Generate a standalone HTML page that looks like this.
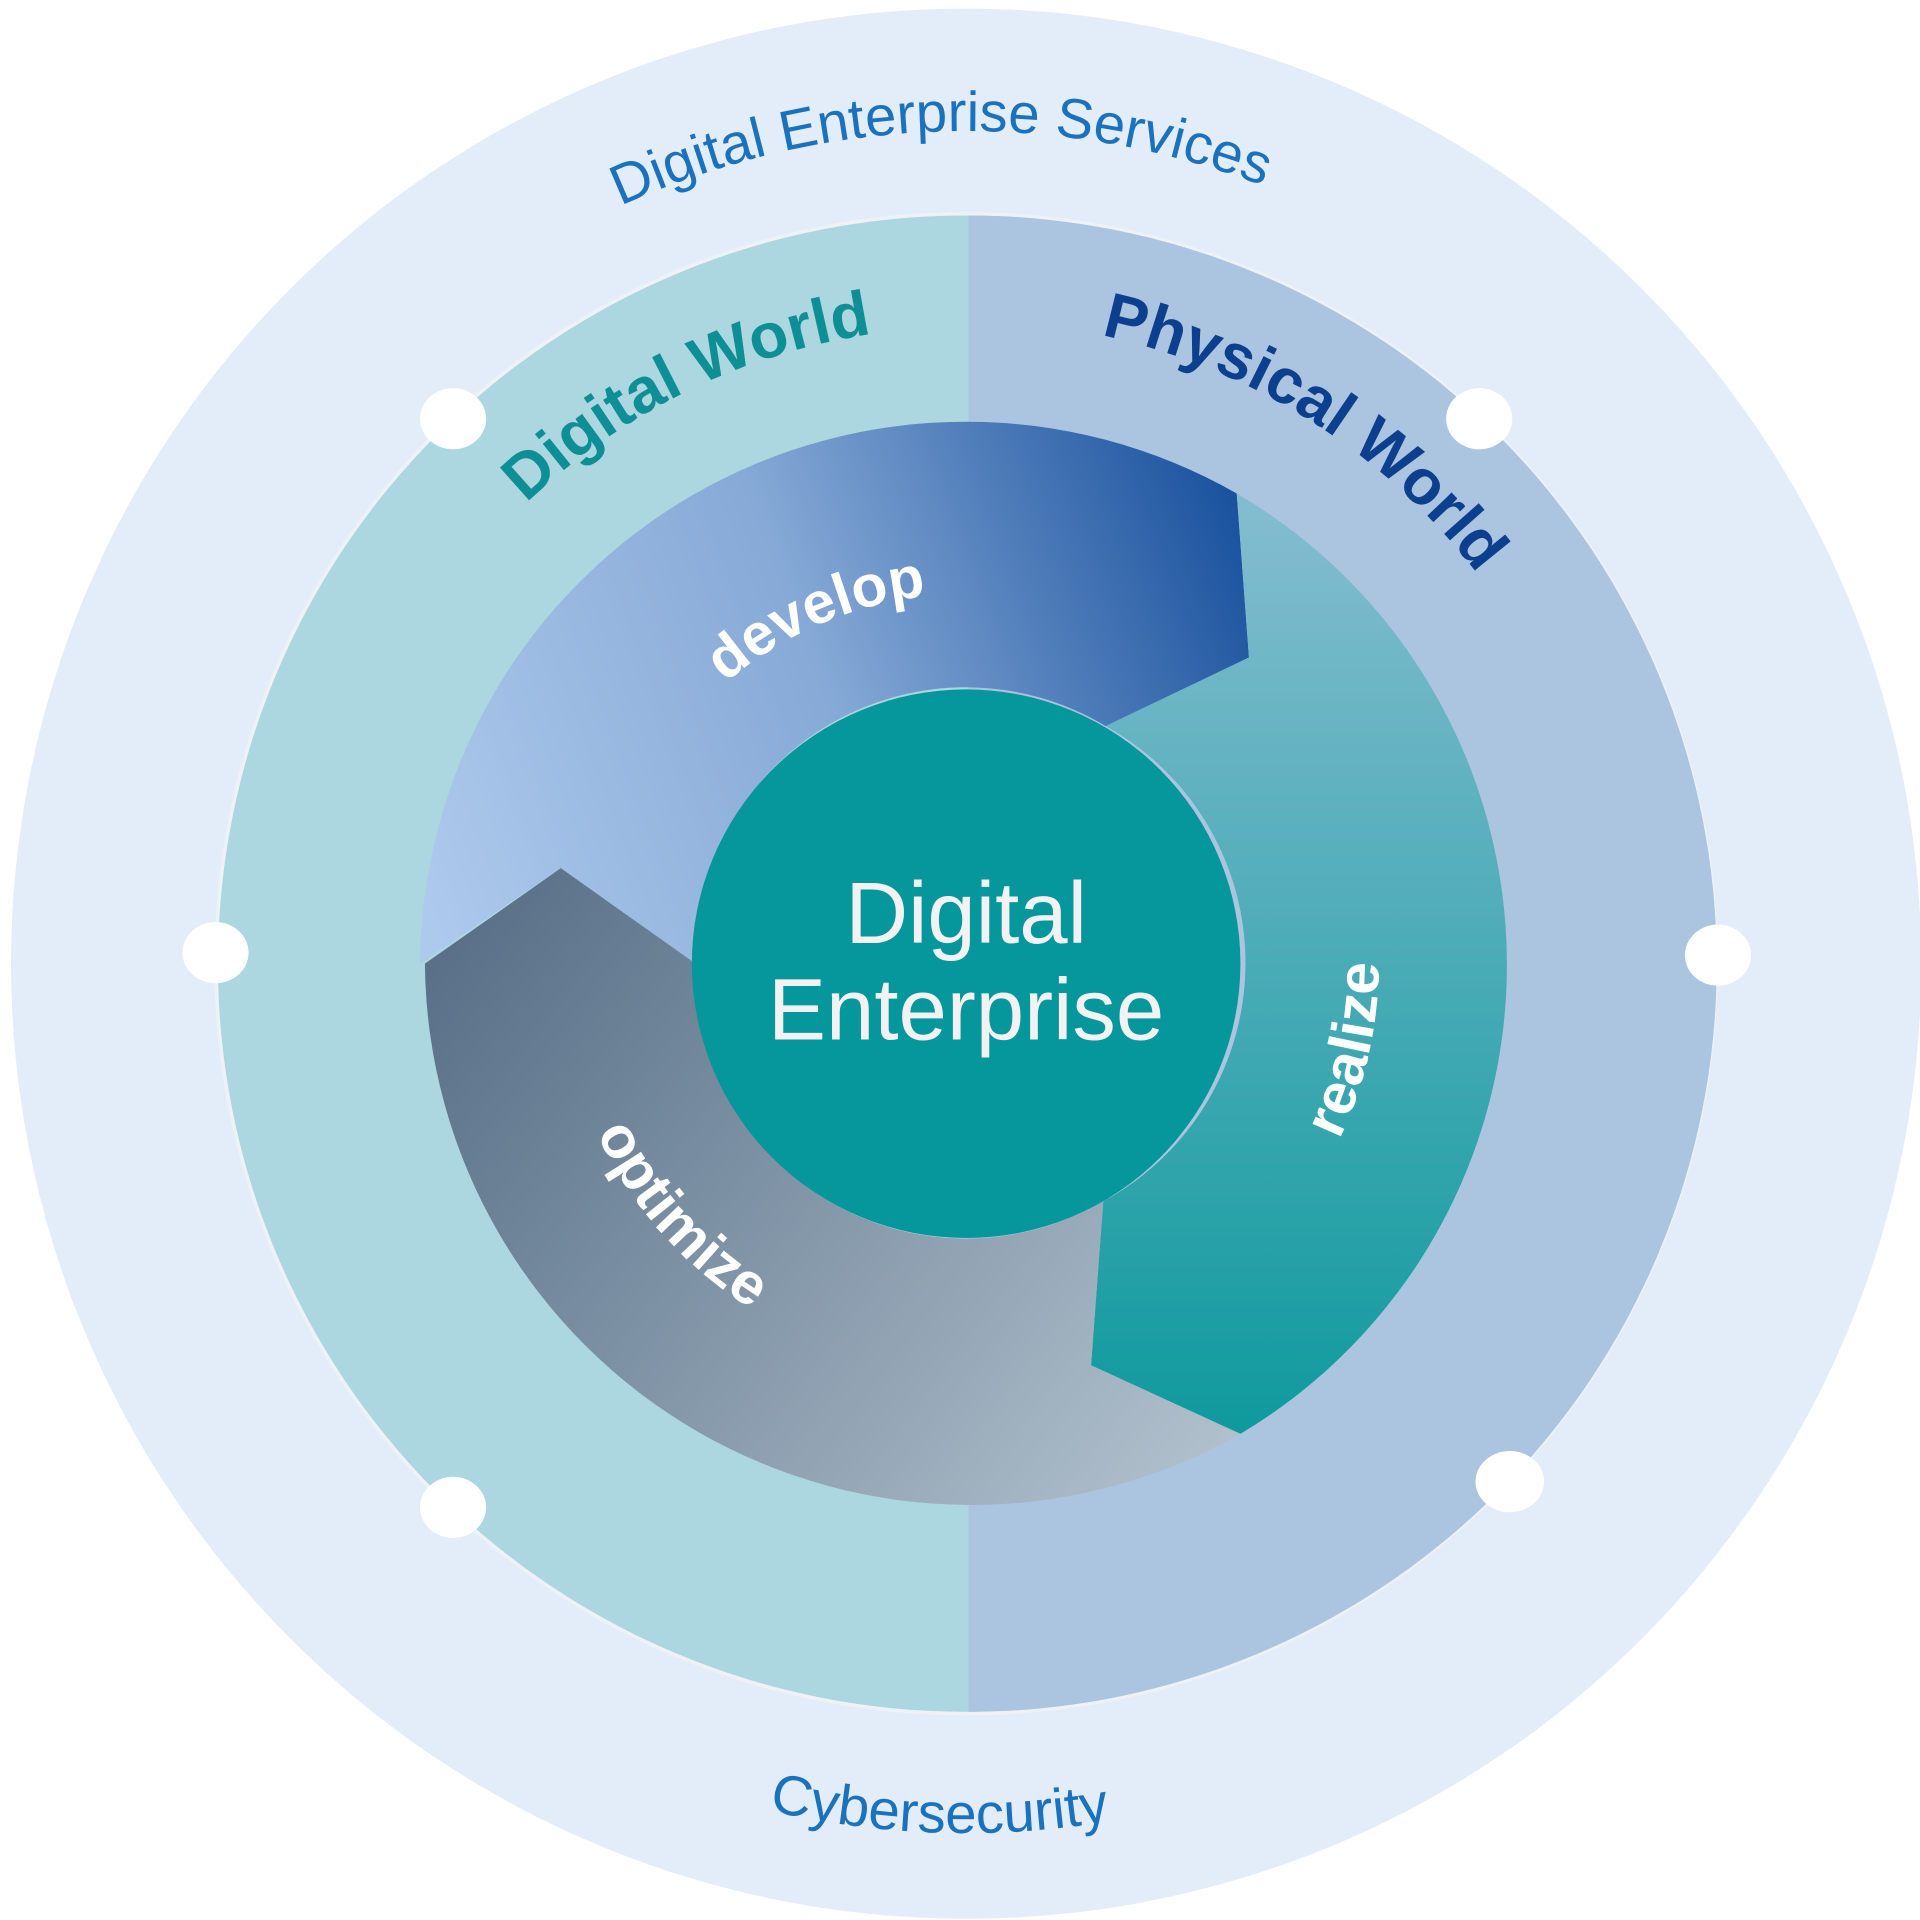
<!DOCTYPE html>
<html><head><meta charset="utf-8"><style>
html,body{margin:0;padding:0;background:#fff;}
svg{display:block;}
text{font-family:"Liberation Sans",sans-serif;}
</style></head><body>
<svg width="1920" height="1920" viewBox="0 0 1568 1568" xmlns="http://www.w3.org/2000/svg">
<defs>
<linearGradient id="gd" gradientUnits="userSpaceOnUse" x1="343" y1="720" x2="1030" y2="460">
<stop offset="0" stop-color="#adc9ec"/><stop offset="0.5" stop-color="#86a9d6"/><stop offset="1" stop-color="#1a529e"/></linearGradient>
<linearGradient id="gr" gradientUnits="userSpaceOnUse" x1="1050" y1="420" x2="1050" y2="1170">
<stop offset="0" stop-color="#82bccf"/><stop offset="1" stop-color="#0f9a9d"/></linearGradient>
<linearGradient id="go" gradientUnits="userSpaceOnUse" x1="360" y1="740" x2="1000" y2="1220">
<stop offset="0" stop-color="#566e86"/><stop offset="1" stop-color="#b3c2ce"/></linearGradient>
<path id="pDES" d="M109 787 A680 680 0 0 1 1469 787"/>
<path id="pCyb" d="M79 787 A710 710 0 0 0 1499 787"/>
<path id="pDW" d="M269 787 A520 520 0 0 1 1309 787"/>
<path id="pPW" d="M264 787 A525 525 0 0 1 1314 787"/>
<path id="pDev" d="M487 787 A302 302 0 0 1 1091 787"/>
<path id="pRea" d="M789 1124 A337 337 0 0 0 789 450"/>
<path id="pOpt" d="M789 455 A332 332 0 0 0 789 1119"/>
</defs>
<circle cx="789" cy="787" r="780" fill="#e3edf9"/>
<circle cx="789" cy="787" r="614" fill="#eef1f5"/>
<circle cx="789" cy="787" r="611" fill="#acd6e0"/>
<path d="M791 176 A611 611 0 0 1 791 1398 Z" fill="#abc4df"/>
<path d="M343 787 A446 446 0 0 1 1010 403 L1020 537 L903 593 A221 221 0 0 0 568 787 L458 709 Z" fill="url(#gd)"/>
<path d="M1010 403 A446 446 0 0 1 1013 1171 L891 1115 L901 981 A221 221 0 0 0 903 593 L1020 537 Z" fill="url(#gr)"/>
<path d="M1013 1171 A446 446 0 0 1 347 787 L458 709 L568 787 A221 221 0 0 0 901 981 L891 1115 Z" fill="url(#go)"/>
<circle cx="789" cy="787" r="224" fill="#05979b"/>
<g fill="#fff">
<ellipse cx="370" cy="342" rx="27" ry="25"/>
<ellipse cx="1208" cy="342" rx="27" ry="25"/>
<ellipse cx="176" cy="778" rx="27" ry="25"/>
<ellipse cx="1403" cy="780" rx="27" ry="25"/>
<ellipse cx="370" cy="1231" rx="27" ry="25"/>
<ellipse cx="1233" cy="1210" rx="28" ry="25"/>
</g>
<text font-size="46" fill="#1a72be"><textPath href="#pDES" startOffset="49%" text-anchor="middle">Digital Enterprise Services</textPath></text>
<text font-size="46" fill="#1a72be"><textPath href="#pCyb" startOffset="49%" text-anchor="middle">Cybersecurity</textPath></text>
<text font-size="52" font-weight="bold" fill="#0e8f95"><textPath href="#pDW" startOffset="35.5%" text-anchor="middle">Digital World</textPath></text>
<text font-size="52" font-weight="bold" fill="#0d3f8f"><textPath href="#pPW" startOffset="68%" text-anchor="middle">Physical World</textPath></text>
<text font-size="48" font-weight="bold" fill="#fff"><textPath href="#pDev" startOffset="37%" text-anchor="middle">develop</textPath></text>
<text font-size="48" font-weight="bold" fill="#fff"><textPath href="#pRea" startOffset="43%" text-anchor="middle">realize</textPath></text>
<text font-size="48" font-weight="bold" fill="#fff"><textPath href="#pOpt" startOffset="73%" text-anchor="middle">optimize</textPath></text>
<text x="789" y="770" font-size="71" fill="#f2f2f2" text-anchor="middle">Digital</text>
<text x="789" y="849" font-size="71" fill="#f2f2f2" text-anchor="middle">Enterprise</text>
</svg>
</body></html>
